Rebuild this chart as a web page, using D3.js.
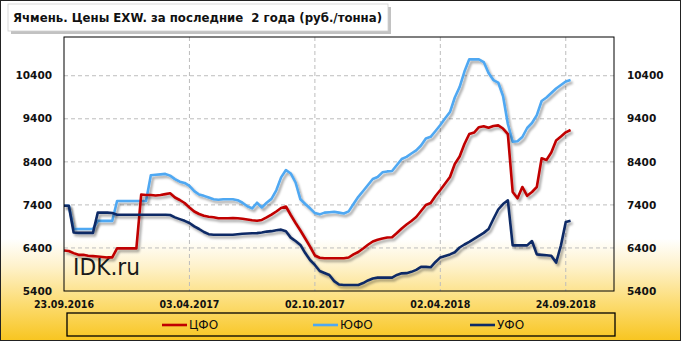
<!DOCTYPE html>
<html>
<head>
  <meta charset="utf-8">
  <title>Ячмень. Цены EXW</title>
  <script src="https://d3js.org/d3.v7.min.js"></script>
  <style>
    body { margin: 0; background: #fff; }
    svg { display: block; font-family: "DejaVu Sans", Verdana, sans-serif; }
    .tick-y { font-size: 10.5px; font-weight: bold; fill: #111; }
    .tick-x { font-size: 10px; font-weight: bold; fill: #111; }
    .title { white-space: pre; }
  </style>
</head>
<body>
<svg id="chart" width="681" height="341"></svg>
<script>
  // ----- data (weekly points) -----
  const yTicks = [5400, 6400, 7400, 8400, 9400, 10400];
  const xTickIdx = [0, 26, 52, 78, 104];
  const xTickLabels = ["23.09.2016", "03.04.2017", "02.10.2017", "02.04.2018", "24.09.2018"];

  const cfo = [
    6340, 6330, 6280, 6240, 6240, 6220, 6210, 6200, 6190, 6180,
    6180, 6390, 6390, 6390, 6390, 6390, 7640, 7630, 7630, 7620,
    7630, 7650, 7670, 7572, 7514, 7444, 7340, 7247, 7189, 7147,
    7126, 7112, 7089, 7089, 7090, 7096, 7090, 7077, 7061, 7045,
    7033, 7050, 7108, 7173, 7247, 7328, 7363, 7165, 6980, 6805,
    6620, 6429, 6225, 6172, 6160, 6160, 6160, 6160, 6160, 6178,
    6250, 6306, 6388, 6474, 6550, 6590, 6620, 6641, 6650, 6747,
    6852, 6945, 7026, 7119, 7258, 7398, 7444, 7607, 7746, 7897,
    8048, 8350, 8524, 8814, 9046, 9081, 9204, 9227, 9192, 9232,
    9248, 9174, 9046, 7700, 7553, 7816, 7611, 7700, 7816, 8482,
    8443, 8617, 8895, 8988, 9086, 9139
  ];
  const yufo = [
    7380, 7380, 6840, 6840, 6840, 6840, 6840, 7030, 7030, 7030,
    7030, 7490, 7490, 7490, 7490, 7490, 7490, 7490, 8090, 8100,
    8110, 8120, 8080, 8000, 7940, 7910, 7840, 7720, 7640, 7610,
    7570, 7530, 7520, 7530, 7530, 7530, 7510, 7450, 7370, 7320,
    7450, 7340, 7450, 7540, 7740, 8040, 8210, 8130, 7920, 7530,
    7420, 7320, 7210, 7180, 7220, 7230, 7240, 7220, 7200, 7250,
    7421, 7588, 7723, 7862, 8001, 8048, 8157, 8178, 8187, 8326,
    8466, 8517, 8594, 8668, 8780, 8942, 8981, 9116, 9255, 9411,
    9557, 9894, 10138, 10498, 10781, 10781, 10781, 10718, 10463, 10300,
    10242, 9929, 9279, 8868, 8877, 8977, 9186, 9302, 9487, 9813,
    9894, 9998, 10103, 10184, 10265, 10300
  ];
  const ufo = [
    7380, 7380, 6760, 6750, 6750, 6750, 6750, 7220, 7220, 7220,
    7210, 7170, 7170, 7170, 7170, 7170, 7170, 7170, 7170, 7170,
    7170, 7170, 7165, 7110, 7070, 7030, 6980, 6900, 6840, 6770,
    6720, 6705, 6705, 6705, 6705, 6705, 6720, 6730, 6735, 6740,
    6745, 6760, 6780, 6790, 6810, 6825, 6790, 6640, 6560, 6470,
    6280, 6120, 6005, 5865, 5820, 5773, 5630, 5550, 5540, 5540,
    5540, 5540, 5585, 5645, 5690, 5710, 5710, 5710, 5710, 5773,
    5810, 5815, 5845, 5890, 5960, 5960, 5950, 6075, 6180, 6215,
    6250, 6300, 6410, 6480, 6540, 6610, 6680, 6750, 6840, 7072,
    7293, 7420, 7506, 6460, 6460, 6460, 6460, 6560, 6250, 6240,
    6230, 6220, 6060, 6460, 7000, 7030
  ];

  const seriesNames = ["ЦФО", "ЮФО", "УФО"];
  const seriesColors = ["#C00000", "#4FA8F2", "#0E2A66"];
  const seriesData = [cfo, yufo, ufo];

  // ----- layout -----
  const W = 681, H = 341;
  const plot = { left: 64, right: 614, top: 37, bottom: 291 };

  const svg = d3.select("#chart");
  const defs = svg.append("defs");

  const bg = defs.append("linearGradient").attr("id", "bg").attr("x1", 0).attr("y1", 0).attr("x2", 0).attr("y2", 1);
  bg.append("stop").attr("offset", "0%").attr("stop-color", "#ffffff");
  bg.append("stop").attr("offset", "70%").attr("stop-color", "#ffffff");
  bg.append("stop").attr("offset", "78%").attr("stop-color", "#fef2cc");
  bg.append("stop").attr("offset", "89%").attr("stop-color", "#fcdc72");
  bg.append("stop").attr("offset", "100%").attr("stop-color", "#f8c51f");

  const shadow = defs.append("filter").attr("id", "shadow")
    .attr("x", "-5%").attr("y", "-5%").attr("width", "110%").attr("height", "120%");
  shadow.append("feDropShadow").attr("dx", 2).attr("dy", 2.5).attr("stdDeviation", 1.2)
    .attr("flood-color", "#000").attr("flood-opacity", 0.35);

  svg.append("rect").attr("width", W).attr("height", H).attr("fill", "url(#bg)");

  const x = d3.scaleLinear().domain([0, 114]).range([plot.left, plot.right]);
  const y = d3.scaleLinear().domain([5400, 11300]).range([plot.bottom, plot.top]);

  // gridlines
  svg.append("g").selectAll("line").data(yTicks.slice(1)).join("line")
    .attr("x1", plot.left).attr("x2", plot.right)
    .attr("y1", d => y(d)).attr("y2", d => y(d))
    .attr("stroke", "#bdbdbd").attr("stroke-dasharray", "4,3");
  svg.append("g").selectAll("line").data(xTickIdx.slice(1)).join("line")
    .attr("x1", d => x(d)).attr("x2", d => x(d))
    .attr("y1", plot.top).attr("y2", plot.bottom)
    .attr("stroke", "#bdbdbd").attr("stroke-dasharray", "4,3");

  // watermark
  svg.append("text").attr("x", 73).attr("y", 275)
    .attr("font-size", 23).attr("fill", "#1a1a1a")
    .attr("textLength", 67).attr("lengthAdjust", "spacingAndGlyphs")
    .text("IDK.ru");

  // lines (navy drawn last, it sits on top at the start)
  const line = d3.line().x((d, i) => x(i)).y(d => y(d));
  [1, 0, 2].forEach(k => {
    svg.append("path").datum(seriesData[k])
      .attr("d", line)
      .attr("fill", "none")
      .attr("stroke", seriesColors[k])
      .attr("stroke-width", 2.6)
      .attr("stroke-linejoin", "round")
      .attr("filter", "url(#shadow)");
  });

  // plot frame
  svg.append("rect")
    .attr("x", plot.left).attr("y", plot.top)
    .attr("width", plot.right - plot.left).attr("height", plot.bottom - plot.top)
    .attr("fill", "none").attr("stroke", "#000").attr("stroke-width", 1);

  // y labels both sides
  svg.append("g").selectAll("text").data(yTicks).join("text")
    .attr("class", "tick-y")
    .attr("x", 52).attr("y", d => y(d)).attr("dy", "0.35em")
    .attr("text-anchor", "end")
    .text(d => d);
  svg.append("g").selectAll("text").data(yTicks).join("text")
    .attr("class", "tick-y")
    .attr("x", 627).attr("y", d => y(d)).attr("dy", "0.35em")
    .text(d => d);

  // x labels
  svg.append("g").selectAll("text").data(xTickIdx).join("text")
    .attr("class", "tick-x")
    .attr("x", d => x(d)).attr("y", 308)
    .attr("text-anchor", "middle")
    .attr("textLength", 60).attr("lengthAdjust", "spacingAndGlyphs")
    .text((d, i) => xTickLabels[i]);

  // title box
  svg.append("rect").attr("x", 11).attr("y", 7).attr("width", 380).attr("height", 27)
    .attr("fill", "#9a9a9a").attr("opacity", 0.6);
  svg.append("rect").attr("x", 8).attr("y", 4).attr("width", 380).attr("height", 27)
    .attr("fill", "#fff").attr("stroke", "#cfcfcf").attr("stroke-width", 0.8);
  svg.append("text").attr("class", "title").attr("x", 13).attr("y", 22)
    .attr("font-size", 12.5).attr("font-weight", "bold").attr("fill", "#111")
    .attr("textLength", 369).attr("lengthAdjust", "spacingAndGlyphs")
    .text("Ячмень. Цены EXW. за последние  2 года (руб./тонна)");

  // legend
  svg.append("rect").attr("x", 67).attr("y", 313).attr("width", 548).attr("height", 23)
    .attr("fill", "none").attr("stroke", "#000").attr("stroke-width", 1.3);
  const legX = [162, 313, 470];
  const leg = svg.append("g").selectAll("g").data(seriesNames).join("g")
    .attr("transform", (d, i) => `translate(${legX[i]},325)`);
  leg.append("line").attr("x1", 0).attr("x2", 25).attr("y1", 0).attr("y2", 0)
    .attr("stroke", (d, i) => seriesColors[i]).attr("stroke-width", 2.6);
  leg.append("text").attr("x", 27).attr("dy", "0.36em")
    .attr("font-size", 12).attr("fill", "#111")
    .text(d => d);

  // outer border
  svg.append("rect").attr("x", 0.5).attr("y", 0.5).attr("width", W - 1).attr("height", H - 1)
    .attr("fill", "none").attr("stroke", "#222").attr("stroke-width", 1);
</script>
</body>
</html>
